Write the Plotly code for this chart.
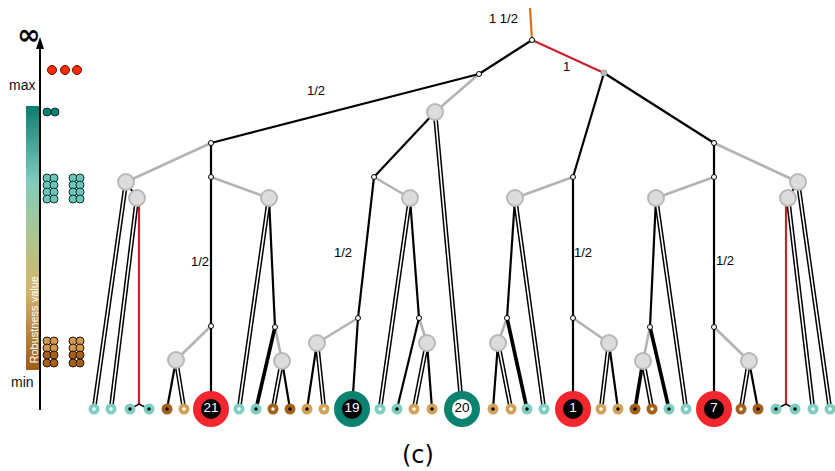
import plotly.graph_objects as go
import numpy as np

W, H = 835, 471
LEAF_Y = 409

# ---------------- data ----------------
leaf_x = [94, 111, 130, 149, 167, 184, 211, 239, 256, 273, 290, 307, 324, 352, 380, 397,
          414, 432, 462, 493, 511, 527, 544, 573, 601, 618, 635, 652, 669, 686, 714, 741,
          758, 776, 795, 813, 830]
leaf_kind = ["T", "T", "T", "T", "D", "L", "R", "T", "T", "D", "D", "L", "L", "G", "T", "T",
             "L", "L", "G", "L", "L", "T", "T", "R", "L", "L", "D", "D", "T", "T", "R", "D",
             "D", "T", "T", "T", "T"]
leaf_center = ["w", "w", "k", "k", "k", "w", "k", "w", "k", "w", "k", "k", "w", "k", "w", "k",
               "w", "k", "w", "k", "w", "k", "w", "k", "w", "k", "k", "w", "k", "w", "k", "w",
               "k", "k", "k", "w", "w"]
leaf_label = ["", "", "", "", "", "", "21", "", "", "", "", "", "", "19", "", "",
              "", "", "20", "", "", "", "", "1", "", "", "", "", "", "", "7", "",
              "", "", "", "", ""]

gray_x = [126, 137, 176, 269, 282, 435, 410, 317, 427, 515, 498, 609, 798, 788, 656, 643, 749]
gray_y = [182, 198, 360, 198, 361, 112, 198, 343, 343, 198, 343, 343, 182, 198, 198, 361, 361]

small_x = [532, 479, 211, 211, 211, 374, 358, 419, 573, 573, 507, 714, 714, 714, 650, 275]
small_y = [40, 74, 143, 177, 326, 177, 318, 318, 177, 318, 318, 143, 177, 327, 327, 327]

edges = [
    ("o", 530, 8, 532, 40), ("r", 532, 40, 604, 73), ("k", 532, 40, 479, 74),
    ("k", 479, 74, 211, 143), ("g", 479, 74, 435, 112),
    ("g", 211, 143, 126, 182), ("k", 211, 143, 211, 177), ("g", 211, 177, 269, 198),
    ("k", 211, 177, 211, 326), ("g", 211, 326, 176, 360), ("k", 211, 326, 211, 409),
    ("k", 126, 182, 137, 198), ("d", 126, 182, 94, 409), ("d", 137, 198, 111, 409),
    ("r", 139, 198, 139, 405),
    ("k", 176, 360, 167, 409), ("d", 176, 360, 184, 409),
    ("d", 269, 198, 239, 409), ("k", 269, 198, 275, 327), ("K", 275, 327, 256, 409),
    ("g", 275, 327, 282, 361), ("d", 282, 361, 273, 409), ("k", 282, 361, 290, 409),
    ("k", 435, 112, 374, 177), ("d", 435, 112, 462, 409), ("g", 374, 177, 410, 198),
    ("k", 374, 177, 358, 318), ("k", 358, 318, 352, 409), ("g", 358, 318, 317, 343),
    ("k", 317, 343, 307, 409), ("d", 317, 343, 324, 409),
    ("d", 410, 198, 380, 409), ("k", 410, 198, 419, 318), ("k", 419, 318, 397, 409),
    ("g", 419, 318, 427, 343), ("d", 427, 343, 414, 409), ("k", 427, 343, 432, 409),
    ("k", 604, 73, 573, 177), ("k", 604, 73, 714, 143), ("g", 573, 177, 515, 198),
    ("k", 573, 177, 573, 318), ("k", 573, 318, 573, 409), ("g", 573, 318, 609, 343),
    ("d", 609, 343, 601, 409), ("k", 609, 343, 618, 409),
    ("k", 515, 198, 507, 318), ("d", 515, 198, 544, 409), ("g", 507, 318, 498, 343),
    ("K", 507, 318, 527, 409), ("k", 498, 343, 493, 409), ("d", 498, 343, 511, 409),
    ("g", 714, 143, 798, 182), ("k", 714, 143, 714, 177), ("g", 714, 177, 656, 198),
    ("k", 714, 177, 714, 327), ("k", 714, 327, 714, 409), ("g", 714, 327, 749, 361),
    ("d", 749, 361, 741, 409), ("k", 749, 361, 758, 409),
    ("k", 656, 198, 650, 327), ("d", 656, 198, 686, 409), ("g", 650, 327, 643, 361),
    ("K", 650, 327, 669, 409), ("K", 643, 361, 635, 409), ("d", 643, 361, 652, 409),
    ("k", 798, 182, 788, 198), ("d", 798, 182, 830, 409), ("d", 788, 198, 813, 409),
    ("r", 786, 198, 786, 405),
]
carets = [(130, 139, 149), (776, 786, 795)]

edge_labels = ["1 1/2", "1", "1/2", "1/2", "1/2", "1/2", "1/2"]
edge_label_x = [503, 566, 316, 200, 343, 583, 725]
edge_label_y = [18, 66, 90, 261, 252, 252, 260]

# legend dots
red_dot_x = [52, 65, 77]
red_dot_y = [70, 70, 70]
dteal_dot_x = [47, 55]
dteal_dot_y = [112, 112]
grid_cols = [47, 54, 73, 80]
teal_rows = [178, 185, 192, 199]
brown_rows = [341, 348, 355, 363]
brown_light = [[1, 1, 1, 1], [1, 1, 1, 1], [0, 0, 0, 0], [0, 0, 0, 0]]

# colorbar stops
cbar_stops = [(0.0, "#a05c1a"), (0.3, "#d6b46a"), (0.5, "#aec68f"),
              (0.72, "#7fcbbd"), (1.0, "#0a8070")]

COL = {"T": "#7fcec1", "D": "#a3611b", "L": "#d2a25a", "R": "#f2262d", "G": "#0a8270"}

fig = go.Figure()

# colorbar gradient
n = 120
ys = np.linspace(370, 106, n + 1)
zs = np.linspace(0, 1, n).reshape(-1, 1)
fig.add_trace(go.Heatmap(z=zs, x=[26, 40], y=ys, colorscale=[[a, c] for a, c in cbar_stops],
                         showscale=False, hoverinfo="skip"))

# edges grouped by style
def seg(style):
    xs, ys_ = [], []
    for s, x1, y1, x2, y2 in edges:
        if s == style:
            xs += [x1, x2, None]
            ys_ += [y1, y2, None]
    return xs, ys_

styles = [("g", "#b3b3b3", 2.6), ("k", "#000000", 2.2), ("K", "#000000", 3.6),
          ("r", "#c8202a", 2.2), ("o", "#d9731a", 2.2)]
for st, c, w in styles:
    xs, ys_ = seg(st)
    fig.add_trace(go.Scatter(x=xs, y=ys_, mode="lines", line=dict(color=c, width=w),
                             hoverinfo="skip", showlegend=False))
xs, ys_ = seg("d")
fig.add_trace(go.Scatter(x=xs, y=ys_, mode="lines", line=dict(color="#000", width=4.6),
                         hoverinfo="skip", showlegend=False))
fig.add_trace(go.Scatter(x=xs, y=ys_, mode="lines", line=dict(color="#fff", width=1.6),
                         hoverinfo="skip", showlegend=False))
cx, cy = [], []
for a, m, b in carets:
    cx += [a, m, b, None]
    cy += [LEAF_Y, LEAF_Y - 5, LEAF_Y, None]
fig.add_trace(go.Scatter(x=cx, y=cy, mode="lines", line=dict(color="#000", width=1.5),
                         hoverinfo="skip", showlegend=False))

# axis line + arrow
fig.add_trace(go.Scatter(x=[40, 40], y=[410, 46], mode="lines", line=dict(color="#000", width=2),
                         hoverinfo="skip", showlegend=False))
fig.add_shape(type="path", path="M 36 49 L 44 49 L 40 37 Z", fillcolor="#000",
              line=dict(width=0))

# gray internal circles
fig.add_trace(go.Scatter(x=gray_x, y=gray_y, mode="markers",
                         marker=dict(size=16, color="#dcdcdc", line=dict(color="#b8b8b8", width=2)),
                         hoverinfo="skip", showlegend=False))
# small nodes
fig.add_trace(go.Scatter(x=small_x, y=small_y, mode="markers",
                         marker=dict(size=5, color="#fff", line=dict(color="#000", width=1)),
                         hoverinfo="skip", showlegend=False))
fig.add_trace(go.Scatter(x=[604], y=[73], mode="markers",
                         marker=dict(size=6, color="#bbbbbb", line=dict(color="#999", width=1)),
                         hoverinfo="skip", showlegend=False))

# leaves
small_idx = [i for i, k in enumerate(leaf_kind) if k not in ("R", "G")]
big_idx = [i for i, k in enumerate(leaf_kind) if k in ("R", "G")]
fig.add_trace(go.Scatter(x=[leaf_x[i] for i in small_idx], y=[LEAF_Y] * len(small_idx),
                         mode="markers",
                         marker=dict(size=11, color=[COL[leaf_kind[i]] for i in small_idx],
                                     line=dict(width=0)),
                         hoverinfo="skip", showlegend=False))
fig.add_trace(go.Scatter(x=[leaf_x[i] for i in small_idx], y=[LEAF_Y] * len(small_idx),
                         mode="markers",
                         marker=dict(size=3.5, color=["#000" if leaf_center[i] == "k" else "#fff"
                                                      for i in small_idx], line=dict(width=0)),
                         hoverinfo="skip", showlegend=False))
fig.add_trace(go.Scatter(x=[leaf_x[i] for i in big_idx], y=[LEAF_Y] * len(big_idx),
                         mode="markers",
                         marker=dict(size=36, color=[COL[leaf_kind[i]] for i in big_idx],
                                     line=dict(width=0)),
                         hoverinfo="skip", showlegend=False))
fig.add_trace(go.Scatter(x=[leaf_x[i] for i in big_idx], y=[LEAF_Y] * len(big_idx),
                         mode="markers+text",
                         marker=dict(size=20, color=["#000" if leaf_center[i] == "k" else "#fff"
                                                     for i in big_idx], line=dict(width=0)),
                         text=[leaf_label[i] for i in big_idx], textposition="middle center",
                         textfont=dict(size=13.5, family="Liberation Sans",
                                       color=["#fff" if leaf_center[i] == "k" else "#000"
                                              for i in big_idx]),
                         hoverinfo="skip", showlegend=False))

# legend dots
fig.add_trace(go.Scatter(x=red_dot_x, y=red_dot_y, mode="markers",
                         marker=dict(size=9, color="#ff2a00", line=dict(color="#5a1000", width=1)),
                         hoverinfo="skip", showlegend=False))
fig.add_trace(go.Scatter(x=dteal_dot_x, y=dteal_dot_y, mode="markers",
                         marker=dict(size=8, color="#0a8070", line=dict(color="#033", width=1)),
                         hoverinfo="skip", showlegend=False))
tx, ty = [], []
for r in teal_rows:
    for c in grid_cols:
        tx.append(c); ty.append(r)
fig.add_trace(go.Scatter(x=tx, y=ty, mode="markers",
                         marker=dict(size=8, color="#6cc6b8", line=dict(color="#0d3330", width=1)),
                         hoverinfo="skip", showlegend=False))
bx, by, bc = [], [], []
for ri, r in enumerate(brown_rows):
    for ci, c in enumerate(grid_cols):
        bx.append(c); by.append(r)
        bc.append("#cf9a50" if brown_light[ri][ci] else "#a3611b")
fig.add_trace(go.Scatter(x=bx, y=by, mode="markers",
                         marker=dict(size=8, color=bc, line=dict(color="#2a1500", width=1)),
                         hoverinfo="skip", showlegend=False))

# text annotations
font = "Liberation Sans"
for t, x, y in zip(edge_labels, edge_label_x, edge_label_y):
    fig.add_annotation(x=x, y=y, text=t, showarrow=False,
                       font=dict(size=13, family=font, color="#000"))
fig.add_annotation(x=28, y=34, text="<b>∞</b>", showarrow=False,
                   font=dict(size=28, family="DejaVu Sans", color="#000"))
fig.add_annotation(x=22, y=85, text="max", showarrow=False, font=dict(size=14, family=font, color="#111"))
fig.add_annotation(x=22, y=382, text="min", showarrow=False, font=dict(size=14, family=font, color="#111"))
fig.add_annotation(x=33.5, y=320, text="Robustness value", textangle=-90, showarrow=False,
                   font=dict(size=11, family=font, color="#fff"))
fig.add_annotation(x=418, y=455, text="(c)", showarrow=False,
                   font=dict(size=24, family="DejaVu Sans", color="#000"))

fig.update_layout(width=W, height=H, margin=dict(l=0, r=0, t=0, b=0),
                  plot_bgcolor="#fff", paper_bgcolor="#fff",
                  xaxis=dict(range=[0, W], visible=False, fixedrange=True),
                  yaxis=dict(range=[H, 0], visible=False, fixedrange=True),
                  showlegend=False)

fig.write_html("out.html", config={"displayModeBar": False},
               post_script="document.body.style.margin='0';document.body.style.overflow='hidden';")
